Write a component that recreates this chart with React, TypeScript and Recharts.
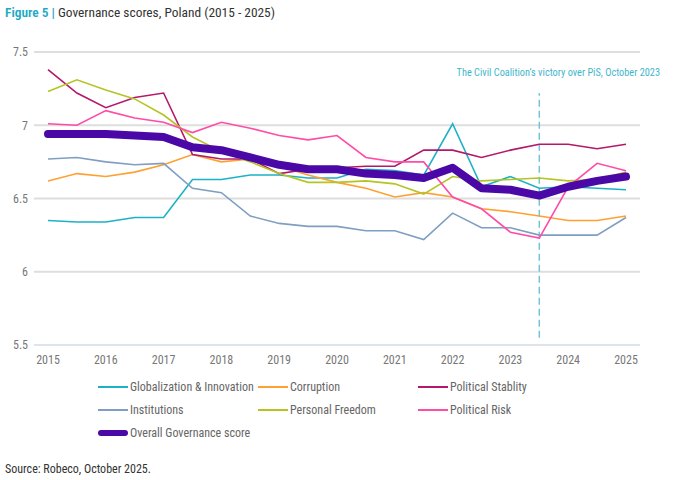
import { CartesianGrid, Line, LineChart, ReferenceLine, XAxis, YAxis } from "recharts";

const periods = [
  2015, 2015.5, 2016, 2016.5, 2017, 2017.5, 2018, 2018.5, 2019, 2019.5, 2020,
  2020.5, 2021, 2021.5, 2022, 2022.5, 2023, 2023.5, 2024, 2024.5, 2025,
];
const globalization = [6.35, 6.34, 6.34, 6.37, 6.37, 6.63, 6.63, 6.66, 6.66, 6.64, 6.64, 6.7, 6.69, 6.66, 7.01, 6.58, 6.65, 6.57, 6.58, 6.57, 6.56];
const corruption = [6.62, 6.67, 6.65, 6.68, 6.73, 6.8, 6.75, 6.77, 6.72, 6.66, 6.61, 6.57, 6.51, 6.54, 6.51, 6.43, 6.41, 6.38, 6.35, 6.35, 6.38];
const stability = [7.38, 7.22, 7.12, 7.19, 7.22, 6.8, 6.77, 6.77, 6.67, 6.7, 6.71, 6.72, 6.72, 6.83, 6.83, 6.78, 6.83, 6.87, 6.87, 6.84, 6.87];
const institutions = [6.77, 6.78, 6.75, 6.73, 6.74, 6.57, 6.54, 6.38, 6.33, 6.31, 6.31, 6.28, 6.28, 6.22, 6.4, 6.3, 6.3, 6.25, 6.25, 6.25, 6.37];
const freedom = [7.23, 7.31, 7.24, 7.18, 7.07, 6.92, 6.82, 6.75, 6.67, 6.61, 6.61, 6.62, 6.6, 6.53, 6.65, 6.62, 6.63, 6.64, 6.62, 6.63, 6.68];
const risk = [7.01, 7.0, 7.1, 7.05, 7.02, 6.95, 7.02, 6.98, 6.93, 6.9, 6.93, 6.78, 6.75, 6.75, 6.51, 6.43, 6.27, 6.23, 6.58, 6.74, 6.69];
const overall = [6.94, 6.94, 6.94, 6.93, 6.92, 6.85, 6.83, 6.78, 6.73, 6.7, 6.7, 6.67, 6.66, 6.64, 6.71, 6.57, 6.56, 6.52, 6.58, 6.62, 6.65];

const yearTicks = [2015, 2016, 2017, 2018, 2019, 2020, 2021, 2022, 2023, 2024, 2025];
const scoreTicks = [5.5, 6, 6.5, 7, 7.5];
const electionPeriod = 2023.5;

const FONT = "'Roboto Condensed', 'Liberation Sans Narrow', Roboto, sans-serif";

const series = [
  { key: "glob", name: "Globalization & Innovation", color: "#1db1c8", values: globalization },
  { key: "corr", name: "Corruption", color: "#ffa033", values: corruption },
  { key: "stab", name: "Political Stablity", color: "#b3186a", values: stability },
  { key: "inst", name: "Institutions", color: "#7f9ec2", values: institutions },
  { key: "free", name: "Personal Freedom", color: "#b5c422", values: freedom },
  { key: "risk", name: "Political Risk", color: "#ff4ca6", values: risk },
];

const data = periods.map((p, i) => {
  const row: Record<string, number> = { p, overall: overall[i] };
  series.forEach((s) => (row[s.key] = s.values[i]));
  return row;
});

const legendCols = [98, 258, 418];

function ChartLegend() {
  const items = [...series.map((s) => ({ ...s, thick: false })), { key: "overall", name: "Overall Governance score", color: "#4a08a6", thick: true }];
  return (
    <div style={{ position: "absolute", left: 0, top: 378, width: 682, height: 70, fontSize: 12, color: "#666" }}>
      {items.map((it, i) => (
        <div
          key={it.key}
          style={{
            position: "absolute",
            left: legendCols[i % 3],
            top: Math.floor(i / 3) * 23,
            display: "flex",
            alignItems: "center",
            height: 18,
            whiteSpace: "nowrap",
          }}
        >
          <span
            style={{
              display: "inline-block",
              width: 30,
              height: it.thick ? 6 : 2,
              borderRadius: it.thick ? 3 : 0,
              background: it.color,
              marginRight: 2,
            }}
          />
          {it.name}
        </div>
      ))}
    </div>
  );
}

export default function App() {
  return (
    <div style={{ position: "absolute", left: 0, top: 0, width: 682, height: 480, background: "#fff", fontFamily: FONT }}>
      <div style={{ position: "absolute", left: 5, top: 5, fontSize: 13.4, color: "#333", whiteSpace: "nowrap" }}>
        <span style={{ color: "#1ba9c3", fontWeight: 600 }}>Figure 5 |</span> Governance scores, Poland (2015 - 2025)
      </div>
      <div style={{ position: "absolute", right: 22, top: 66, fontSize: 10.3, color: "#3fb6cb", whiteSpace: "nowrap" }}>
        The Civil Coalition’s victory over PiS, October 2023
      </div>
      <LineChart width={682} height={480} data={data} margin={{ top: 52, right: 42, bottom: 105, left: 4 }}>
        <CartesianGrid horizontal vertical={false} stroke="#dedede" strokeWidth={2} />
        <XAxis
          dataKey="p"
          type="number"
          domain={[2015, 2025]}
          ticks={yearTicks}
          padding={{ left: 14, right: 14 }}
          axisLine={{ stroke: "#dfe3ea", strokeWidth: 2 }}
          tickLine={false}
          tickSize={0}
          tickMargin={10}
          tick={{ fill: "#777", fontSize: 12, fontFamily: FONT }}
        />
        <YAxis
          type="number"
          domain={[5.5, 7.5]}
          ticks={scoreTicks}
          width={30}
          axisLine={false}
          tickLine={false}
          tickSize={0}
          tickMargin={6}
          tick={{ fill: "#777", fontSize: 12, fontFamily: FONT }}
        />
        <ReferenceLine
          segment={[
            { x: electionPeriod, y: 5.55 },
            { x: electionPeriod, y: 7.22 },
          ]}
          stroke="#74c3d8"
          strokeWidth={1.5}
          strokeDasharray="7 4"
        />
        {series.map((s) => (
          <Line
            key={s.key}
            dataKey={s.key}
            name={s.name}
            stroke={s.color}
            strokeWidth={1.6}
            dot={false}
            type="linear"
            isAnimationActive={false}
          />
        ))}
        <Line
          dataKey="overall"
          name="Overall Governance score"
          stroke="#4a08a6"
          strokeWidth={8}
          strokeLinecap="round"
          strokeLinejoin="round"
          dot={false}
          type="linear"
          isAnimationActive={false}
        />
      </LineChart>
      <ChartLegend />
      <div style={{ position: "absolute", left: 5, top: 462, fontSize: 12, color: "#333", whiteSpace: "nowrap" }}>
        Source: Robeco, October 2025.
      </div>
    </div>
  );
}
